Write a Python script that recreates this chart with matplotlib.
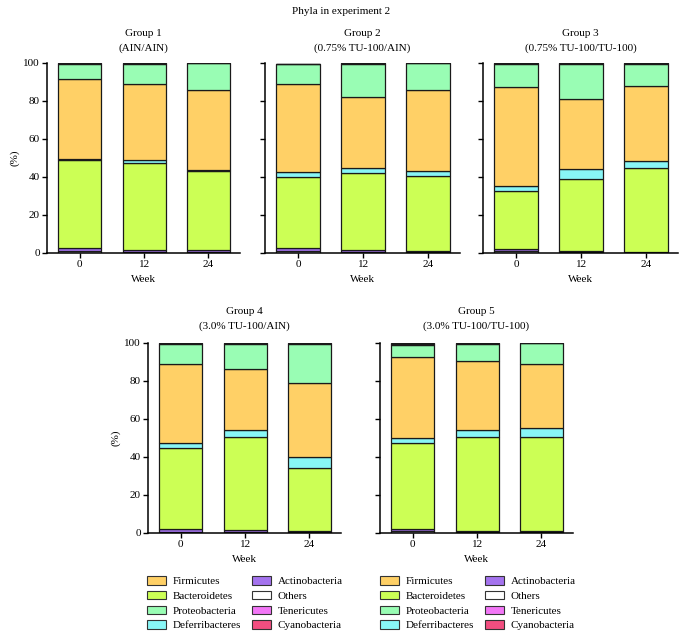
import matplotlib
matplotlib.use("Agg")
import matplotlib.pyplot as plt
import numpy as np
from matplotlib.patches import Patch

plt.rcParams["font.family"] = ["Liberation Serif", "DejaVu Serif"]
plt.rcParams["font.size"] = 8

weeks = ["0", "12", "24"]
groups = ["Group 1", "Group 2", "Group 3", "Group 4", "Group 5"]
diets = ["(AIN/AIN)", "(0.75% TU-100/AIN)", "(0.75% TU-100/TU-100)",
         "(3.0% TU-100/AIN)", "(3.0% TU-100/TU-100)"]

# relative abundance (%), one row per group, one value per week
others = [[0.8, 0.5, 0.4], [1.2, 0.5, 0.4], [0.8, 0.4, 0.3], [0.5, 0.5, 0.4], [0.8, 0.4, 0.4]]
actinobacteria = [[1.8, 1.2, 1.0], [1.5, 0.9, 0.8], [1.5, 0.7, 0.4], [1.6, 0.9, 0.5], [1.3, 0.5, 0.6]]
bacteroidetes = [[46.3, 45.5, 42.0], [37.5, 40.5, 39.5], [30.3, 38.0, 44.1], [42.7, 48.9, 33.2], [45.5, 49.8, 49.5]]
deferribacteres = [[0.8, 1.9, 0.3], [2.6, 2.6, 2.2], [2.8, 5.0, 3.4], [2.8, 3.9, 5.8], [2.2, 3.3, 4.6]]
firmicutes = [[41.7, 39.7, 41.9], [46.4, 37.5, 42.8], [52.0, 36.8, 39.5], [41.6, 32.3, 38.8], [42.9, 36.6, 34.1]]
proteobacteria = [[8.3, 10.8, 14.2], [10.2, 17.7, 14.1], [12.2, 18.6, 11.9], [10.4, 13.2, 20.9], [6.1, 8.9, 10.6]]
tenericutes = [[0.2, 0.4, 0.1], [0.2, 0.2, 0.1], [0.2, 0.3, 0.2], [0.2, 0.2, 0.2], [0.6, 0.4, 0.1]]
cyanobacteria = [[0.1, 0.1, 0.1], [0.1, 0.1, 0.1], [0.2, 0.2, 0.2], [0.2, 0.1, 0.2], [0.6, 0.1, 0.1]]

# bottom -> top stacking order
stack = [
    ("Others", others, "#FFFFFF"),
    ("Actinobacteria", actinobacteria, "#A473EE"),
    ("Bacteroidetes", bacteroidetes, "#CCFF55"),
    ("Deferribacteres", deferribacteres, "#88F6F6"),
    ("Firmicutes", firmicutes, "#FFD066"),
    ("Proteobacteria", proteobacteria, "#99FDB4"),
    ("Tenericutes", tenericutes, "#F276F6"),
    ("Cyanobacteria", cyanobacteria, "#F24E80"),
]
legend_order = ["Firmicutes", "Bacteroidetes", "Proteobacteria", "Deferribacteres",
                "Actinobacteria", "Others", "Tenericutes", "Cyanobacteria"]

W, H = 682, 635
fig = plt.figure(figsize=(W / 100, H / 100), dpi=100)

# panel boxes in pixels: left, top, right, bottom
boxes = [(47, 63, 240, 253), (265, 63, 460, 253), (483, 63, 678, 253),
         (148, 343, 341, 533), (380, 343, 573, 533)]


def px_axes(box):
    l, t, r, b = box
    return fig.add_axes([l / W, 1 - b / H, (r - l) / W, (b - t) / H])


x = np.arange(len(weeks))
for gi, box in enumerate(boxes):
    ax = px_axes(box)
    bottom = np.zeros(len(weeks))
    for name, vals, color in stack:
        v = np.array(vals[gi])
        ax.bar(x, v, bottom=bottom, width=0.67, color=color,
               edgecolor="#1a1a1a", linewidth=0.9)
        bottom += v
    ax.set_xlim(-0.51, 2.49)
    ax.set_ylim(0, 100)
    ax.set_yticks(range(0, 101, 20))
    ax.set_xticks(x)
    ax.set_xticklabels(weeks)
    ax.spines["top"].set_visible(False)
    ax.spines["right"].set_visible(False)
    for s in ("left", "bottom"):
        ax.spines[s].set_linewidth(1.1)
    ax.tick_params(length=3.6, width=1, pad=1.5)
    if gi in (0, 3):
        ax.set_ylabel("(%)", labelpad=3)
    else:
        ax.set_yticklabels([])
    ax.set_xlabel("Week", labelpad=4)
    l, t, r, b = box
    cx = (l + r) / 2 / W
    top_y = 33 if gi < 3 else 311
    fig.text(cx, 1 - top_y / H, groups[gi], ha="center", va="center")
    fig.text(cx, 1 - (top_y + 15) / H, diets[gi], ha="center", va="center")

fig.text(341 / W, 1 - 12 / H, "Phyla in experiment 2", ha="center", va="center")

colors = {name: color for name, _, color in stack}
handles = [Patch(facecolor=colors[n], edgecolor="#333333", linewidth=0.8, label=n)
           for n in legend_order]
for lx in (147, 380):
    fig.legend(handles=handles, ncol=2, loc="upper left",
               bbox_to_anchor=(lx / W, 1 - 576 / H), frameon=False,
               borderpad=0, borderaxespad=0, handlelength=1.7, handleheight=0.8,
               handletextpad=0.6, labelspacing=0.42, columnspacing=1.0,
               fontsize=8)

fig.savefig("out.png", dpi=100)
